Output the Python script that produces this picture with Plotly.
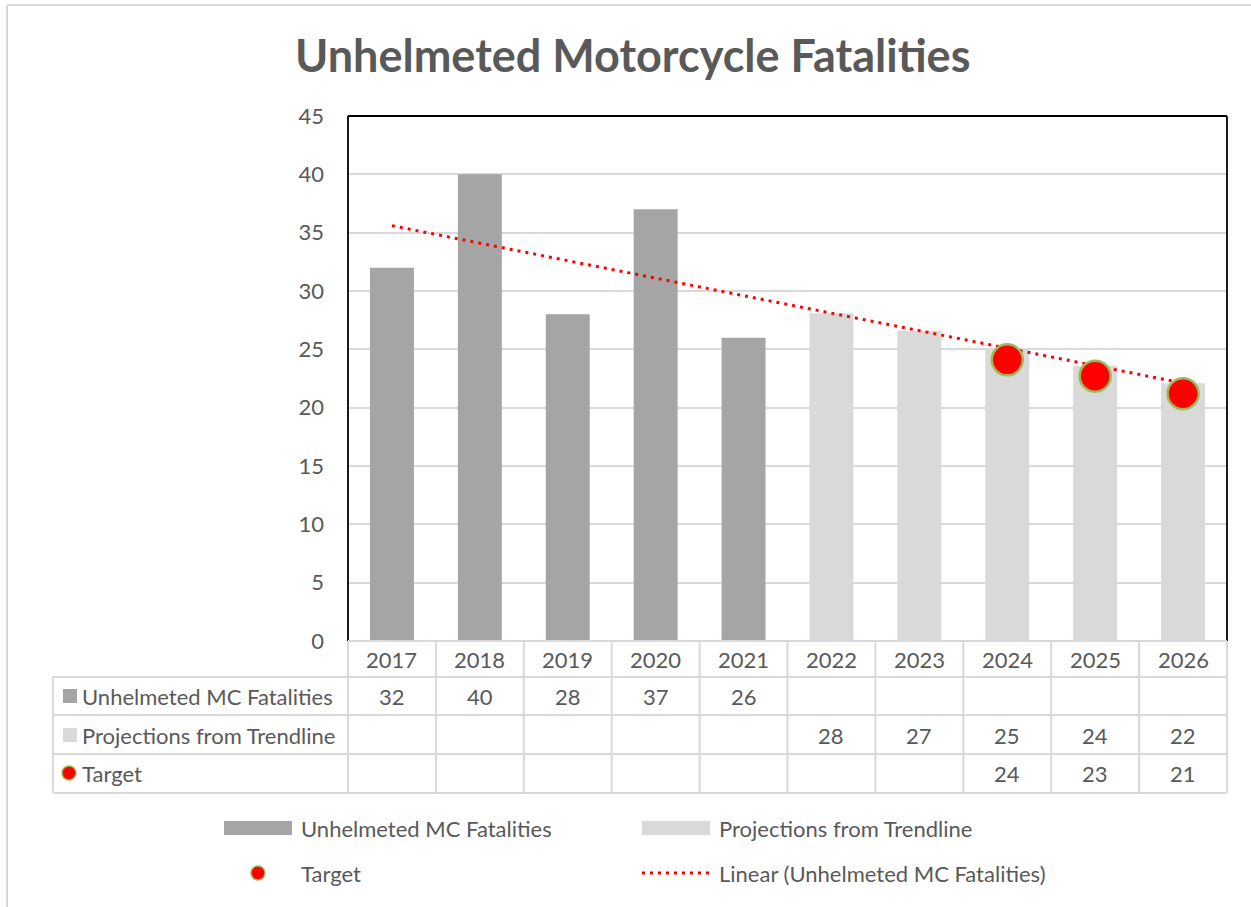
import plotly.graph_objects as go

# ---------------- data ----------------
years = ["2017", "2018", "2019", "2020", "2021", "2022", "2023", "2024", "2025", "2026"]
fatality_years = ["2017", "2018", "2019", "2020", "2021"]
fatalities = [32, 40, 28, 37, 26]
projection_years = ["2022", "2023", "2024", "2025", "2026"]
projections = [28.1, 26.6, 25.1, 23.6, 22.1]
target_years = ["2024", "2025", "2026"]
targets = [24.1, 22.7, 21.2]
trend_years = ["2017", "2026"]
trend_values = [35.6, 22.1]

series_names = ["Unhelmeted MC Fatalities", "Projections from Trendline", "Target"]
trend_name = "Linear (Unhelmeted MC Fatalities)"
title_text = "Unhelmeted Motorcycle Fatalities"
y_ticks = [0, 5, 10, 15, 20, 25, 30, 35, 40, 45]

# ---------------- style ----------------
W, H = 1251, 907
L, R, T, B = 348, 1227, 116, 641
FONT = "Lato"
TXT = "#595959"
DARK = "#A5A5A5"
LIGHT = "#D9D9D9"
GRID = "#D9D9D9"
RED = "#FF0000"
GREEN = "#9BBB59"


def px(x):
    return (x - L) / (R - L)


def py(y):
    return (B - y) / (B - T)


fig = go.Figure()
fig.add_trace(go.Bar(x=fatality_years, y=fatalities, name=series_names[0],
                     marker=dict(color=DARK, line=dict(width=0)), width=0.5))
fig.add_trace(go.Bar(x=projection_years, y=projections, name=series_names[1],
                     marker=dict(color=LIGHT, line=dict(width=0)), width=0.5))
fig.add_trace(go.Scatter(x=trend_years, y=trend_values, mode="lines", name=trend_name,
                         line=dict(color=RED, width=3, dash="3px,5px")))
fig.add_trace(go.Scatter(x=target_years, y=targets, mode="markers", name=series_names[2],
                         marker=dict(color=RED, size=31, line=dict(color=GREEN, width=2.5))))

shapes = []
annotations = []


def hline(y, x0, x1, color=GRID, width=2):
    shapes.append(dict(type="line", xref="paper", yref="paper", x0=px(x0), x1=px(x1),
                       y0=py(y), y1=py(y), line=dict(color=color, width=width), layer="above"))


def vline(x, y0, y1, color=GRID, width=2):
    shapes.append(dict(type="line", xref="paper", yref="paper", x0=px(x), x1=px(x),
                       y0=py(y0), y1=py(y1), line=dict(color=color, width=width), layer="above"))


def text(s, x, y, anchor="center", size=22, xref="paper", color=TXT, bold=False):
    annotations.append(dict(text=("<b>%s</b>" % s) if bold else s, xref=xref, yref="paper",
                            x=x, y=py(y), xanchor=anchor, yanchor="middle", showarrow=False,
                            font=dict(family=FONT, size=size, color=color)))


# outer chart border (top & left)
shapes.append(dict(type="line", xref="paper", yref="paper", x0=px(7), x1=px(W + 5),
                   y0=py(5), y1=py(5), line=dict(color=GRID, width=2)))
shapes.append(dict(type="line", xref="paper", yref="paper", x0=px(7), x1=px(7),
                   y0=py(5), y1=py(H + 5), line=dict(color=GRID, width=2)))

# plot area border (left, top, right)
vline(L, T, B, color="#000000", width=1.8)
vline(R, T, B, color="#000000", width=1.8)
hline(T, L, R, color="#000000", width=1.8)

# data table grid
row_lines = [677, 715, 754, 793]
hline(B, L, R)
for yy in row_lines:
    hline(yy, 53, R)
vline(53, 677, 793)
n = len(years)
for j in range(n + 1):
    vline(L + (R - L) * j / n, B, 793)

# table contents
row_centers = [696, 735, 773]
for i, yr in enumerate(years):
    text(yr, i, 659, xref="x")
for i, yr in enumerate(fatality_years):
    text("%d" % round(fatalities[i]), years.index(yr), row_centers[0], xref="x")
for i, yr in enumerate(projection_years):
    text("%d" % round(projections[i]), years.index(yr), row_centers[1], xref="x")
for i, yr in enumerate(target_years):
    text("%d" % round(targets[i]), years.index(yr), row_centers[2], xref="x")

# row headers with keys
for k, name in enumerate(series_names):
    text(name, px(80), row_centers[k], anchor="left")
shapes.append(dict(type="rect", xref="paper", yref="paper", x0=px(63), x1=px(77),
                   y0=py(row_centers[0] - 7), y1=py(row_centers[0] + 7),
                   fillcolor=DARK, line=dict(width=0)))
shapes.append(dict(type="rect", xref="paper", yref="paper", x0=px(63), x1=px(77),
                   y0=py(row_centers[1] - 7), y1=py(row_centers[1] + 7),
                   fillcolor=LIGHT, line=dict(width=0)))
shapes.append(dict(type="circle", xref="paper", yref="paper", x0=px(62), x1=px(76),
                   y0=py(row_centers[2] - 7), y1=py(row_centers[2] + 7),
                   fillcolor=RED, line=dict(color=GREEN, width=1.5)))

# legend
leg1, leg2 = 828, 873
shapes.append(dict(type="rect", xref="paper", yref="paper", x0=px(224), x1=px(292),
                   y0=py(leg1 - 7), y1=py(leg1 + 7), fillcolor=DARK, line=dict(width=0)))
text(series_names[0], px(299), leg1, anchor="left")
shapes.append(dict(type="rect", xref="paper", yref="paper", x0=px(642), x1=px(710),
                   y0=py(leg1 - 7), y1=py(leg1 + 7), fillcolor=LIGHT, line=dict(width=0)))
text(series_names[1], px(717), leg1, anchor="left")
shapes.append(dict(type="circle", xref="paper", yref="paper", x0=px(251), x1=px(265),
                   y0=py(leg2 - 7), y1=py(leg2 + 7), fillcolor=RED, line=dict(color=GREEN, width=1.5)))
text(series_names[2], px(299), leg2, anchor="left")
shapes.append(dict(type="line", xref="paper", yref="paper", x0=px(642), x1=px(710),
                   y0=py(leg2), y1=py(leg2), line=dict(color=RED, width=3, dash="3px,5px")))
text(trend_name, px(717), leg2, anchor="left")

# title
text(title_text, px(632), 55, size=45, bold=True)

fig.update_layout(
    width=W, height=H, autosize=False,
    margin=dict(l=L, r=W - R, t=T, b=H - B, pad=0),
    paper_bgcolor="white", plot_bgcolor="white",
    barmode="overlay", showlegend=False,
    font=dict(family=FONT, color=TXT, size=22),
    xaxis=dict(type="category", categoryorder="array", categoryarray=years,
               range=[-0.5, 9.5], showticklabels=False, showgrid=False,
               zeroline=False, showline=False, ticks=""),
    yaxis=dict(range=[0, 45], tickvals=y_ticks, showgrid=True, gridcolor=GRID, gridwidth=1.8,
               zeroline=False, showline=False, ticks="", ticklabelstandoff=23,
               tickfont=dict(family=FONT, size=22, color=TXT)),
    shapes=shapes, annotations=annotations,
)

fig.write_html("out.html", config={"displayModeBar": False},
               post_script="document.body.style.margin='0px';document.body.style.overflow='hidden';")
